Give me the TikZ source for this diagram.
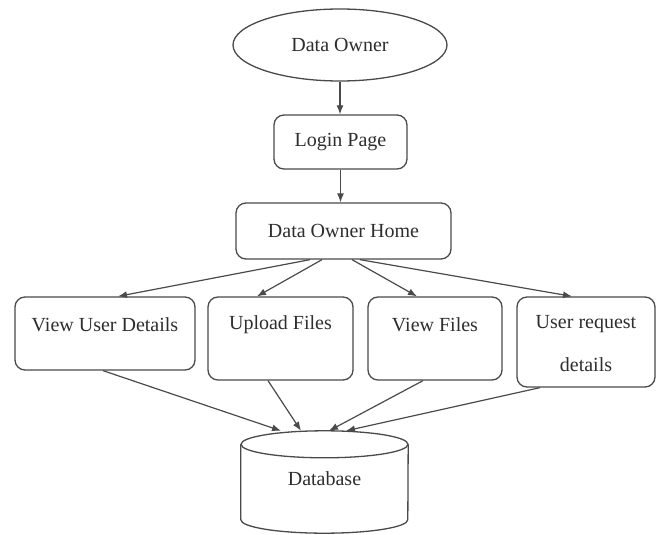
\documentclass[tikz,border=0pt]{standalone}
\usepackage{fontspec}
\setmainfont{Liberation Serif}
\newfontfamily\labelface{Liberation Serif}
\usetikzlibrary{arrows.meta,shapes.geometric}
\definecolor{edge}{HTML}{4A4A4A}
\definecolor{ink}{HTML}{2E2E2E}
\tikzset{
  frame/.style={draw=edge, line width=1.3pt, fill=white},
  procbox/.style={frame, rectangle, rounded corners=10pt, inner sep=0pt},
  lbl/.style={text=ink, font=\labelface\fontsize{20}{24}\selectfont, inner sep=0pt},
  flow/.style={draw=edge, line width=1.2pt, -{Latex[length=9pt,width=7pt]}},
}
\begin{document}
\begin{tikzpicture}[x=1pt,y=-1pt]
\useasboundingbox (0,0) rectangle (662,535);

% actor and entry screens
\node[frame, ellipse, minimum width=214pt, minimum height=72pt, lbl] (own) at (340,45) {Data Owner};
\node[procbox, minimum width=133pt, minimum height=54pt, lbl] (login) at (340.5,142) {Login Page};
\node[procbox, minimum width=215pt, minimum height=56pt, lbl] (home) at (343.5,231) {Data Owner Home};

% feature pages
\node[procbox, minimum width=180pt, minimum height=73pt] (vud) at (105,333.5) {};
\node[lbl] (vudt) at ([yshift=-28pt]vud.north) {View User Details};
\node[procbox, minimum width=145pt, minimum height=83pt] (upl) at (280.5,338.5) {};
\node[lbl] (uplt) at ([yshift=-28pt]upl.north) {Upload Files};
\node[procbox, minimum width=134pt, minimum height=83pt] (vf) at (435,338.5) {};
\node[lbl] (vft) at ([yshift=-28pt]vf.north) {View Files};
\node[procbox, minimum width=138pt, minimum height=90pt] (urd) at (586,342) {};
\node[lbl] (urdt) at ([yshift=-28pt]urd.north) {User request};
\node[lbl] (urdt2) at ([yshift=-68pt]urd.north) {details};

% storage: cylinder outline drawn around a plain node
\node[minimum width=167pt, minimum height=102pt, inner sep=0pt] (db) at (324.5,482) {};
\draw[frame] ([yshift=-13.5pt]db.north west) -- ([yshift=13.5pt]db.south west)
  arc[start angle=180, end angle=360, x radius=83.5pt, y radius=13.5pt]
  -- ([yshift=-13.5pt]db.north east);
\draw[frame] ([yshift=-13.5pt]db.north) ellipse[x radius=83.5pt, y radius=13.5pt];
\node[lbl] (dbt) at ([yshift=3pt]db.center) {Database};

% connectors
\draw[flow] (own.south) -- (own.south |- login.north);
\draw[flow] (login.south) -- (login.south |- home.north);
\draw[flow] ([xshift=-33.5pt]home.south) -- ([xshift=13pt]vud.north);
\draw[flow] ([xshift=-21.5pt]home.south) -- ([xshift=-23.5pt]upl.north);
\draw[flow] ([xshift=8.5pt]home.south) -- ([xshift=-18pt]vf.north);
\draw[flow] ([xshift=16.5pt]home.south) -- ([xshift=-14pt]urd.north);
\draw[flow] ([xshift=-2pt]vud.south) -- ([xshift=-43.5pt]db.north);
\draw[flow] ([xshift=-12.5pt]upl.south) -- ([xshift=-23.5pt]db.north);
\draw[flow] ([xshift=-12pt]vf.south) -- ([xshift=4.5pt]db.north);
\draw[flow] ([xshift=-46pt]urd.south) -- ([xshift=21.5pt]db.north);
\end{tikzpicture}
\end{document}
